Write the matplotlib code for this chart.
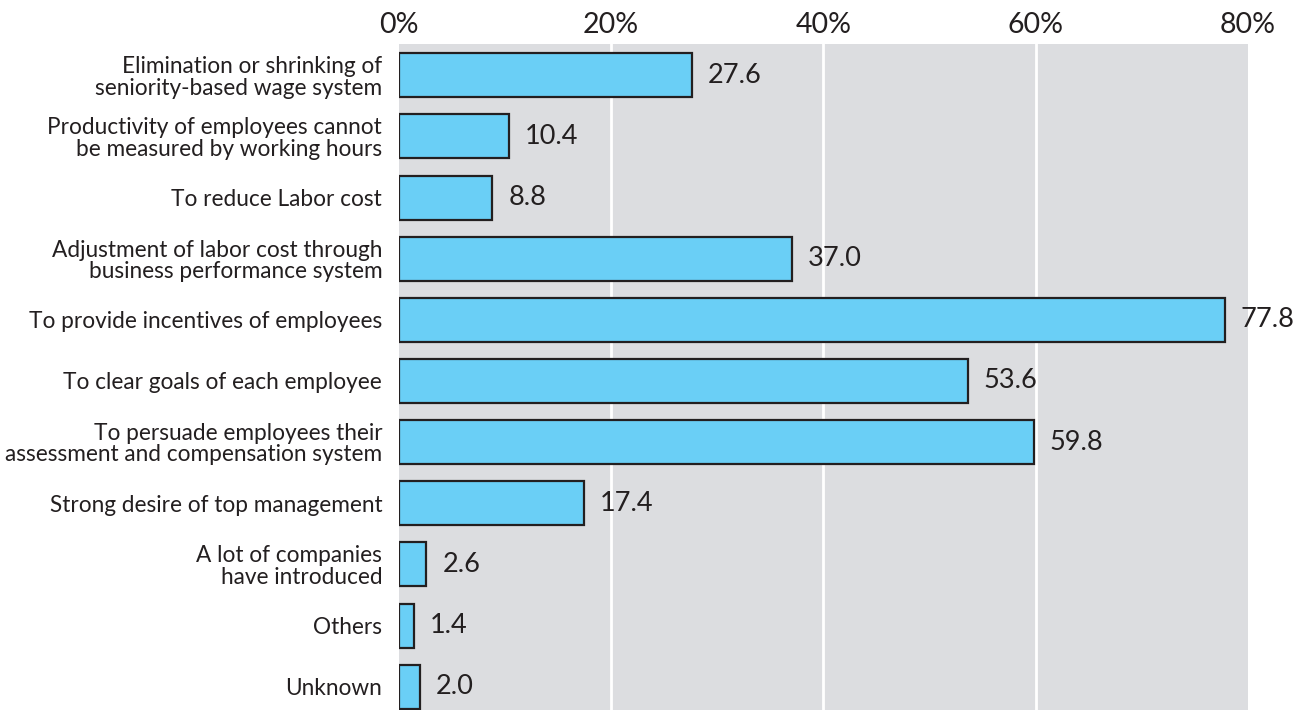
import numpy as np
import matplotlib.pyplot as plt

plt.rcParams['font.family'] = ['Lato', 'DejaVu Sans']

reasons = [
    "Elimination or shrinking of\nseniority-based wage system",
    "Productivity of employees cannot\nbe measured by working hours",
    "To reduce Labor cost",
    "Adjustment of labor cost through\nbusiness performance system",
    "To provide incentives of employees",
    "To clear goals of each employee",
    "To persuade employees their\nassessment and compensation system",
    "Strong desire of top management",
    "A lot of companies\nhave introduced",
    "Others",
    "Unknown",
]
shares = [27.6, 10.4, 8.8, 37.0, 77.8, 53.6, 59.8, 17.4, 2.6, 1.4, 2.0]
xticks = [0, 20, 40, 60, 80]

fig = plt.figure(figsize=(12.95, 7.10), dpi=100)
ax = fig.add_axes([0.308, 0.0, 0.9637 - 0.308, 0.938])
ax.set_facecolor('#dcdde0')

y = np.arange(len(reasons))
ax.barh(y, shares, height=0.72, color='#6acff6', edgecolor='#231f20',
        linewidth=1.6, zorder=3)

for yi, v in zip(y, shares):
    ax.text(v + 1.5, yi, f"{v:.1f}", va='center', ha='left',
            fontsize=19.5, color='#231f20', zorder=4)

ax.set_xlim(0, 80)
ax.set_ylim(10.38, -0.51)
ax.set_xticks(xticks)
ax.set_xticklabels([f"{t}%" for t in xticks], fontsize=20.5, color='#231f20')
ax.xaxis.tick_top()
ax.tick_params(axis='x', length=0, pad=4)
ax.tick_params(axis='y', length=0, pad=12)
ax.set_yticks(y)
ax.set_yticklabels(reasons, fontsize=16.3, color='#231f20', linespacing=1.02)
for lab in ax.get_yticklabels():
    lab.set_horizontalalignment('right')

for t in xticks[1:-1]:
    ax.axvline(t, color='white', linewidth=2, zorder=1)

for s in ax.spines.values():
    s.set_visible(False)

fig.savefig('out.png', dpi=100)
